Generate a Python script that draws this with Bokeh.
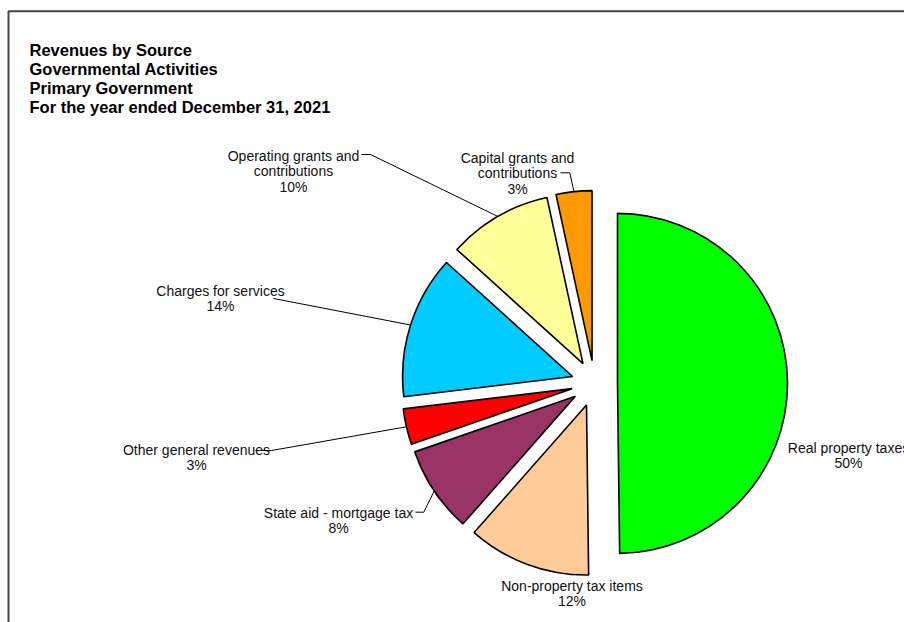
import math
from bokeh.plotting import figure
from bokeh.models import Range1d, ColumnDataSource
from bokeh.core.properties import value
from bokeh.embed import file_html
from bokeh.resources import INLINE

# ---- data (clockwise from 12 o'clock) ----
categories = ["Real property taxes", "Non-property tax items", "State aid - mortgage tax",
              "Other general revenues", "Charges for services",
              "Operating grants and\ncontributions", "Capital grants and\ncontributions"]
shares = [49.8, 11.7, 8.2, 3.4, 13.6, 9.9, 3.4]
colors = ["#00FF00", "#FFCC99", "#993366", "#FF0000", "#00CCFF", "#FFFF99", "#FF9900"]
title_lines = ["Revenues by Source", "Governmental Activities", "Primary Government",
               "For the year ended December 31, 2021"]

# ---- layout ----
W, H = 904, 622
def cx(x):  # page x -> data x
    return x
def cy(y):  # page y -> data y
    return H - y

CENTER = (cx(594), cy(383))
R = 170
EXPLODE = 23
LINE_STEP = 15.5
FONT = "Liberation Sans"

# label anchor (centre x, first baseline y) in page pixels, and leader start points
label_pos = [(848, 447), (571.5, 585), (338, 512), (196, 449), (220, 290), (293, 155), (517, 157.3)]
leader_start = [None, None,
                [(415, 511.7), (423.3, 511.7)],
                [(255, 450), (271, 450)],
                [(273, 298)],
                [(361, 154), (370, 154)],
                [(560, 172.3), (569.3, 172.3)]]

p = figure(width=W, height=H, output_backend="svg", toolbar_location=None,
           x_axis_location=None, y_axis_location=None,
           x_range=Range1d(0, W), y_range=Range1d(0, H), min_border=0)
p.xgrid.visible = False
p.ygrid.visible = False
p.outline_line_color = None
p.background_fill_color = "white"

# frame (left and top edges; the rest is outside the window)
p.line([cx(8), cx(8), W], [0, cy(10.7), cy(10.7)], line_color="#444444", line_width=2)

total = sum(shares)
xs, ys, starts, ends, mids = [], [], [], [], []
cum = 0.0
for v in shares:
    a0 = cum / total * 360.0
    a1 = (cum + v) / total * 360.0
    cum += v
    mid = math.radians(90 - (a0 + a1) / 2)
    xs.append(CENTER[0] + EXPLODE * math.cos(mid))
    ys.append(CENTER[1] + EXPLODE * math.sin(mid))
    starts.append(math.radians(90 - a1))
    ends.append(math.radians(90 - a0))
    mids.append(mid)

src = ColumnDataSource(dict(x=xs, y=ys, start=starts, end=ends, color=colors))
p.wedge(x="x", y="y", radius=R, start_angle="start", end_angle="end", direction="anticlock",
        fill_color="color", line_color="black", line_width=1.6, source=src)

# leader lines
for i, pts in enumerate(leader_start):
    if pts is None:
        continue
    ex = xs[i] + R * math.cos(mids[i])
    ey = ys[i] + R * math.sin(mids[i])
    lx = [cx(a) for a, b in pts] + [ex]
    ly = [cy(b) for a, b in pts] + [ey]
    p.line(lx, ly, line_color="black", line_width=1)

# data labels
for name, v, (lx, ly) in zip(categories, shares, label_pos):
    lines = name.split("\n") + [f"{round(v)}%"]
    p.text(x=[cx(lx)] * len(lines), y=[cy(ly + k * LINE_STEP) for k in range(len(lines))],
           text=lines, text_align="center", text_baseline="alphabetic",
           text_font=value(FONT), text_font_size="14px", text_color="#111111")

# title
p.text(x=[cx(29)] * len(title_lines), y=[cy(49 + k * 19) for k in range(len(title_lines))],
       text=title_lines, text_align="left", text_baseline="alphabetic",
       text_font=value(FONT), text_font_size="16.5px", text_font_style="bold", text_color="black")

open("out.html", "w").write(file_html(p, INLINE))
